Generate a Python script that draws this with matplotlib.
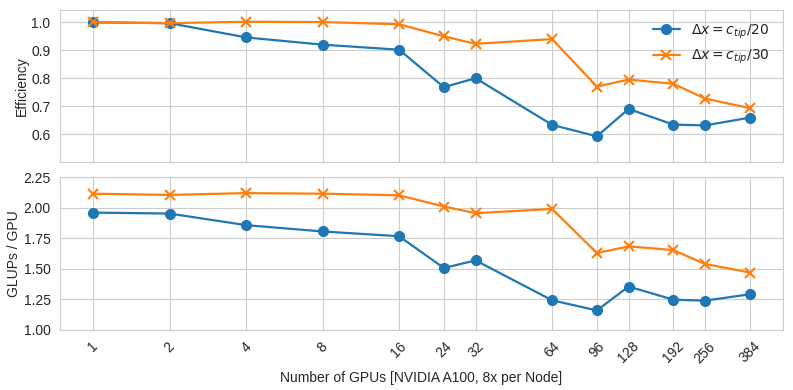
import matplotlib.pyplot as plt
import seaborn as sns
from matplotlib.ticker import NullLocator

sns.set_style("whitegrid")
plt.rcParams["font.family"] = ["Liberation Sans", "DejaVu Sans"]

gpus = [1, 2, 4, 8, 16, 24, 32, 64, 96, 128, 192, 256, 384]

# efficiency
eff_20 = [1.0, 0.997, 0.946, 0.920, 0.902, 0.768, 0.800, 0.633, 0.592, 0.690, 0.634, 0.631, 0.659]
eff_30 = [1.0, 0.997, 1.002, 1.001, 0.993, 0.950, 0.923, 0.940, 0.770, 0.795, 0.780, 0.727, 0.693]

# GLUPs per GPU
glups_20 = [1.960, 1.952, 1.857, 1.805, 1.766, 1.505, 1.568, 1.240, 1.157, 1.353, 1.245, 1.237, 1.290]
glups_30 = [2.115, 2.105, 2.120, 2.115, 2.102, 2.010, 1.955, 1.990, 1.628, 1.683, 1.652, 1.538, 1.468]

labels = ["$\\Delta x = c_{tip}/20$", "$\\Delta x = c_{tip}/30$"]

fig, (ax1, ax2) = plt.subplots(2, 1, figsize=(7.93, 3.9), dpi=100, sharex=True)
fig.subplots_adjust(left=0.076, right=0.987, top=0.975, bottom=0.155, hspace=0.1)

ax1.plot(gpus, eff_20, marker="o", markersize=7, lw=1.6, color="tab:blue", label=labels[0])
ax1.plot(gpus, eff_30, marker="x", markersize=7, lw=1.6, mew=1.5, color="tab:orange", label=labels[1])
ax1.set_ylabel("Efficiency", fontsize=10, labelpad=1.5)
ax1.set_ylim(0.5, 1.045)
ax1.set_yticks([0.6, 0.7, 0.8, 0.9, 1.0])
ax1.legend(loc="upper right", frameon=False, fontsize=10)

ax2.plot(gpus, glups_20, marker="o", markersize=7, lw=1.6, color="tab:blue")
ax2.plot(gpus, glups_30, marker="x", markersize=7, lw=1.6, mew=1.5, color="tab:orange")
ax2.set_ylabel("GLUPs / GPU", fontsize=10, labelpad=1.5)
ax2.set_ylim(1.0, 2.25)
ax2.set_yticks([1.0, 1.25, 1.5, 1.75, 2.0, 2.25])
ax2.set_xlabel("Number of GPUs [NVIDIA A100, 8x per Node]", fontsize=10)

ax2.set_xscale("log", base=2)
ax2.set_xticks(gpus)
ax2.set_xticklabels([str(g) for g in gpus], rotation=45)
ax2.xaxis.set_minor_locator(NullLocator())

for ax in (ax1, ax2):
    ax.tick_params(labelsize=10)

fig.savefig("out.png", dpi=100)
